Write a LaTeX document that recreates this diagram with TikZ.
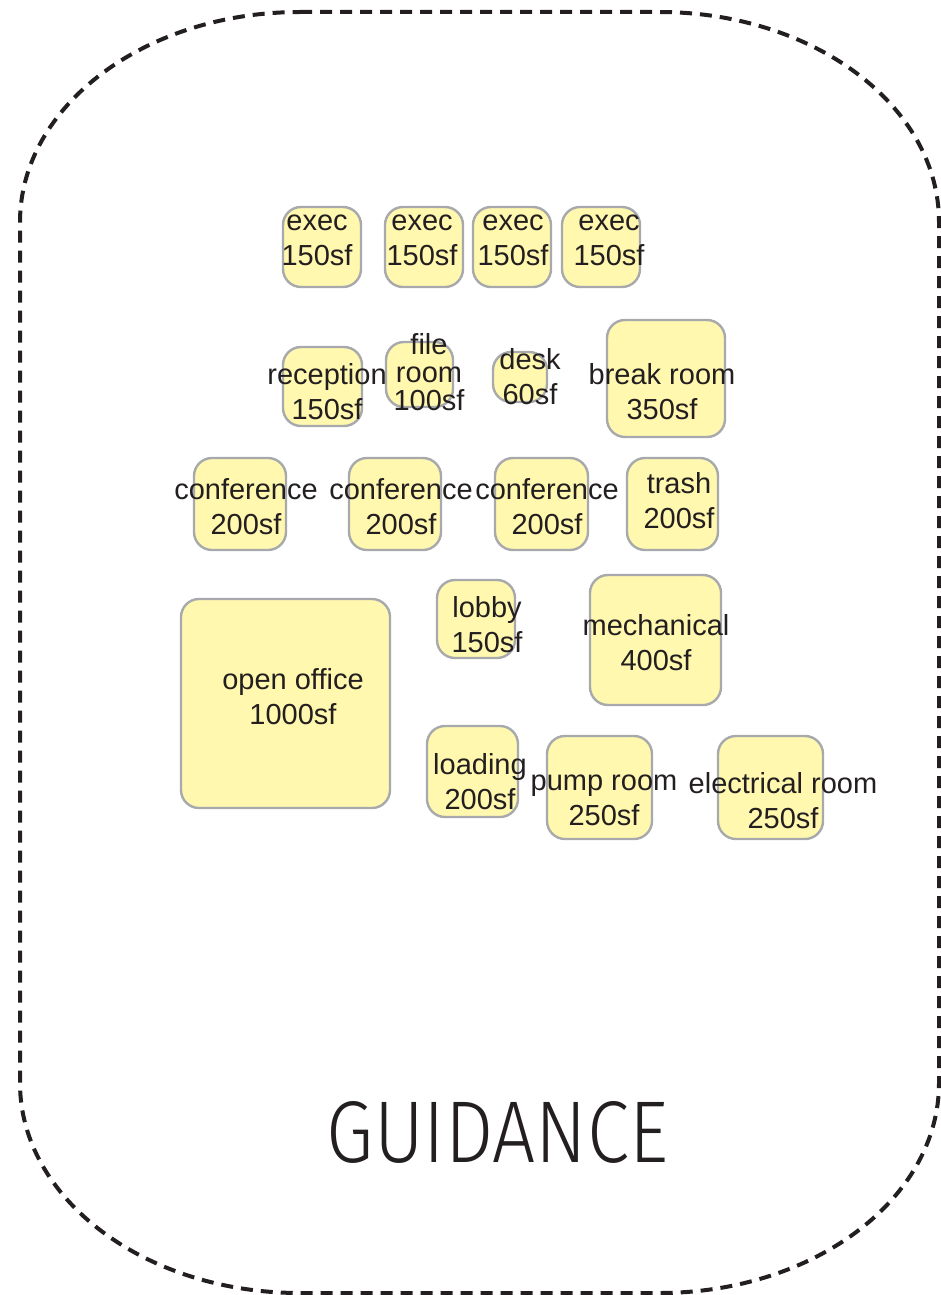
\documentclass[tikz,border=0pt]{standalone}
\usepackage{fontspec}
\setmainfont{Liberation Sans}
\newfontfamily\guidefont{Fira Sans}[UprightFont=* Light]
\usepackage{graphicx}
\usepackage{xcolor}
\definecolor{roomfill}{RGB}{255,248,174}
\definecolor{roomline}{RGB}{167,169,172}
\definecolor{inkcol}{RGB}{35,31,32}
\tikzset{
  room/.style={draw=roomline,fill=roomfill,line width=2.4pt,rounded corners=18pt,
               inner sep=0pt,outer sep=0pt},
  roomlabel/.style={text=inkcol,align=center,inner sep=0pt,
                    font=\fontsize{29}{35}\selectfont,
                    execute at begin node=\strut,execute at end node=\strut},
  site/.style={draw=inkcol,line width=4pt,dash pattern=on 12pt off 8pt},
  banner/.style={text=inkcol,inner sep=0pt},
}

\begin{document}
\begin{tikzpicture}[x=1pt,y=-1pt]
  \useasboundingbox (0,0) rectangle (941,1295);
  % site outline
  \draw[site] (300,12) -- (659,12)
    .. controls (813.6,12) and (939,106) .. (939,222) -- (939,1083)
    .. controls (939,1199) and (813.6,1293) .. (659,1293) -- (300,1293)
    .. controls (145.4,1293) and (20,1199) .. (20,1083) -- (20,222)
    .. controls (20,106) and (145.4,12) .. (300,12) -- cycle;
  % rooms
  \foreach \nm/\cx/\cy/\w/\h in {exec1/322/247/78/80,exec2/424/247/78/80,
      exec3/512/247/78/80,exec4/601/247/78/80,
      reception/322.5/386.5/79/79,fileroom/419.5/374.5/67/65,
      desk/520/377/54/50,breakroom/666/378.5/118/117,
      conf1/240/504/92/92,conf2/395/504/92/92,conf3/541.5/504/93/92,
      trash/672.5/504/91/92,openoffice/285.5/703.5/209/209,
      lobby/476/619/78/78,mechanical/655.5/640/131/130,
      loading/472.5/771.5/91/91,pumproom/599.5/787.5/105/103,
      electrical/770.5/787.5/105/103}
    {\node[room,minimum width=\w pt,minimum height=\h pt] (\nm) at (\cx,\cy) {};}
  \foreach \nm/\lx/\ly/\txt in {exec1/317/245.5/{exec\\150sf},
      exec2/422/245.5/{exec\\150sf},exec3/513/245.5/{exec\\150sf},
      exec4/609/245.5/{exec\\150sf},
      reception/327/396.5/{reception\\150sf},
      fileroom/429/377/{file\\[-7pt]room\\[-7pt]100sf},
      desk/530/382/{desk\\60sf},
      breakroom/662/397/{break room\\350sf},
      conf1/246/512/{conference\\200sf},conf2/401/512/{conference\\200sf},
      conf3/547/512/{conference\\200sf},trash/679/506/{trash\\200sf},
      openoffice/293/701.5/{open office\\1000sf},
      lobby/487/629.5/{lobby\\150sf},
      mechanical/656/647.5/{mechanical\\400sf},
      loading/480/787/{loading\\200sf},
      pumproom/604/805.5/{pump room\\250sf},
      electrical/783/805.5/{electrical room\\250sf}}
    {\node[roomlabel] (\nm-label) at (\lx,\ly) {\txt};}
  \node[banner] (title) at (497.5,1132.5)
    {\resizebox{341pt}{61pt}{\guidefont GUIDANCE}};
\end{tikzpicture}
\end{document}
